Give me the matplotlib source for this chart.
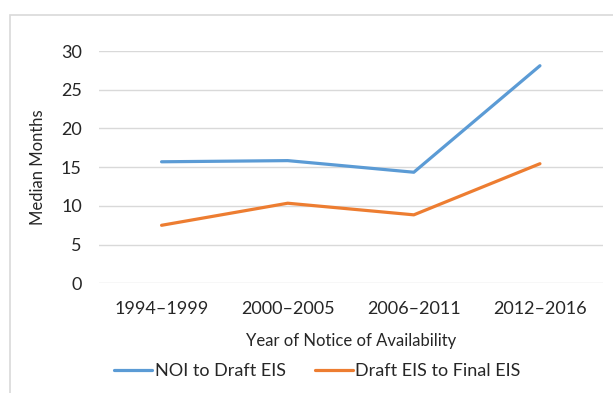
import matplotlib.pyplot as plt
from matplotlib.patches import Rectangle

periods = ["1994\u20131999", "2000\u20132005", "2006\u20132011", "2012\u20132016"]
noi_to_draft = [15.7, 15.85, 14.35, 28.1]
draft_to_final = [7.5, 10.35, 8.85, 15.45]

plt.rcParams["font.family"] = ["Lato", "DejaVu Sans"]
text_color = "#262626"
grid_color = "#D9D9D9"

fig = plt.figure(figsize=(6.13, 3.93), dpi=100)
ax = fig.add_axes([0.1607, 0.2789, 0.8230, 0.5913])

x = list(range(len(periods)))
ax.plot(x, noi_to_draft, color="#5B9BD5", lw=2.3, solid_capstyle="round",
        label="NOI to Draft EIS")
ax.plot(x, draft_to_final, color="#ED7D31", lw=2.3, solid_capstyle="round",
        label="Draft EIS to Final EIS")

ax.set_xlim(-0.5, len(periods) - 0.5)
ax.set_ylim(0, 30)
ax.set_yticks(range(0, 31, 5))
ax.set_xticks(x)
ax.set_xticklabels(periods)
ax.grid(axis="y", color=grid_color, lw=1)
ax.set_axisbelow(True)
for s in ax.spines.values():
    s.set_visible(False)
ax.tick_params(length=0, labelsize=13, colors=text_color)
ax.tick_params(axis="y", pad=12)
ax.tick_params(axis="x", pad=13)

ax.set_xlabel("Year of Notice of Availability", fontsize=12, color=text_color, labelpad=11)
ax.set_ylabel("Median Months", fontsize=12, color=text_color, labelpad=11)

fig.legend(loc="center", bbox_to_anchor=(0.518, 0.056), ncol=2, frameon=False,
           fontsize=13, handlelength=2.1, handletextpad=0.15, columnspacing=1.6,
           labelcolor=text_color)

# chart area border (cropped at right and bottom like the original)
fig.patches.append(Rectangle((10 / 613, -0.05), 1.2, 1 - 14.8 / 393 + 0.05,
                             transform=fig.transFigure, fill=False,
                             edgecolor=grid_color, lw=1.2))

fig.savefig("out.png", dpi=100)
